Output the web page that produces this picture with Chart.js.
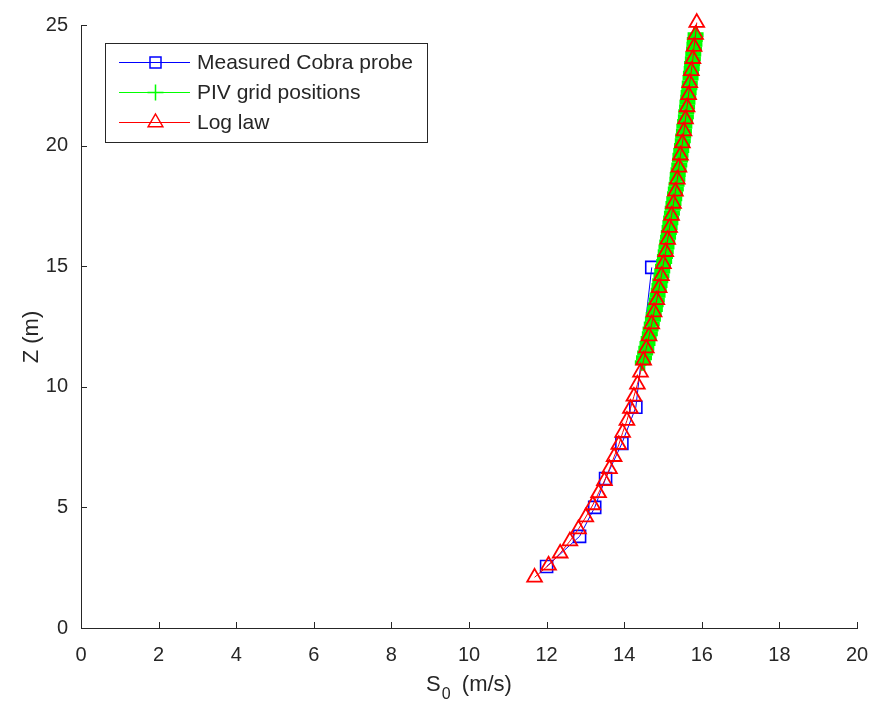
<!DOCTYPE html>
<html lang="en">
<head>
  <meta charset="UTF-8">
  <title>Wind speed profile</title>
  <script src="https://cdn.jsdelivr.net/npm/chart.js"></script>
  <style>
    html, body { margin: 0; padding: 0; background: #fff; }
    canvas { display: block; }
  </style>
</head>
<body>
  <canvas id="profile" width="870" height="708"></canvas>

  <script>
    // Cobra probe measurements (height, speed)
    const cobraZ = [2.55, 3.8, 5.0, 6.2, 7.65, 9.15, 14.95];
    const cobraS = [12.0, 12.85, 13.24, 13.52, 13.94, 14.3, 14.71];

    // PIV grid positions
    const pivZ = [11.0, 11.2, 11.4, 11.6, 11.8, 12.0, 12.2, 12.4, 12.6, 12.8,
                  13.0, 13.2, 13.4, 13.6, 13.8, 14.0, 14.2, 14.4, 14.6, 14.8,
                  15.0, 15.2, 15.4, 15.6, 15.8, 16.0, 16.2, 16.4, 16.6, 16.8,
                  17.0, 17.2, 17.4, 17.6, 17.8, 18.0, 18.2, 18.4, 18.6, 18.8,
                  19.0, 19.2, 19.4, 19.6, 19.8, 20.0, 20.2, 20.4, 20.6, 20.8,
                  21.0, 21.2, 21.4, 21.6, 21.8, 22.0, 22.2, 22.4, 22.6, 22.8,
                  23.0, 23.2, 23.4, 23.6, 23.8, 24.0, 24.2, 24.4, 24.6];
    const pivS = [14.48, 14.51, 14.54, 14.57, 14.60, 14.63, 14.66, 14.68, 14.71, 14.74,
                  14.76, 14.79, 14.81, 14.84, 14.86, 14.89, 14.91, 14.93, 14.96, 14.98,
                  15.00, 15.03, 15.05, 15.07, 15.09, 15.11, 15.13, 15.15, 15.17, 15.19,
                  15.21, 15.23, 15.25, 15.27, 15.29, 15.31, 15.33, 15.35, 15.37, 15.38,
                  15.40, 15.42, 15.44, 15.45, 15.47, 15.49, 15.51, 15.52, 15.54, 15.55,
                  15.57, 15.59, 15.60, 15.62, 15.63, 15.65, 15.66, 15.68, 15.69, 15.71,
                  15.72, 15.74, 15.75, 15.77, 15.78, 15.80, 15.81, 15.82, 15.84];

    // Log law profile
    const logZ = [2.1, 2.6, 3.1, 3.6, 4.1, 4.6, 5.1, 5.6, 6.1, 6.6,
                  7.1, 7.6, 8.1, 8.6, 9.1, 9.6, 10.1, 10.6, 11.1, 11.6,
                  12.1, 12.6, 13.1, 13.6, 14.1, 14.6, 15.1, 15.6, 16.1, 16.6,
                  17.1, 17.6, 18.1, 18.6, 19.1, 19.6, 20.1, 20.6, 21.1, 21.6,
                  22.1, 22.6, 23.1, 23.6, 24.1, 24.6, 25.1];
    const logS = [11.69, 12.05, 12.35, 12.60, 12.82, 13.01, 13.19, 13.34, 13.49, 13.62,
                  13.74, 13.86, 13.96, 14.07, 14.16, 14.25, 14.34, 14.42, 14.50, 14.57,
                  14.64, 14.71, 14.77, 14.84, 14.90, 14.96, 15.01, 15.07, 15.12, 15.17,
                  15.22, 15.27, 15.32, 15.37, 15.41, 15.45, 15.50, 15.54, 15.58, 15.62,
                  15.66, 15.69, 15.73, 15.77, 15.80, 15.84, 15.87];

    const xTicks = [0, 2, 4, 6, 8, 10, 12, 14, 16, 18, 20];
    const yTicks = [0, 5, 10, 15, 20, 25];

    const legendNames = ['Measured Cobra probe', 'PIV grid positions', 'Log law'];

    const axisColor = '#262626';
    const fontFamily = '"Liberation Sans", Arial, Helvetica, sans-serif';

    function toPoints(xs, ys) {
      return xs.map((x, i) => ({ x: x, y: ys[i] }));
    }

    // marker shapes used in the legend
    function drawMarker(ctx, kind, x, y) {
      ctx.beginPath();
      if (kind === 'rect') {
        ctx.rect(x - 5.5, y - 5.5, 11, 11);
      } else if (kind === 'cross') {
        ctx.moveTo(x, y - 8); ctx.lineTo(x, y + 8);
        ctx.moveTo(x - 8, y); ctx.lineTo(x + 8, y);
      } else {
        const r = 8.5;
        ctx.moveTo(x, y - r);
        ctx.lineTo(x + 0.866 * r, y + 0.5 * r);
        ctx.lineTo(x - 0.866 * r, y + 0.5 * r);
        ctx.closePath();
      }
      ctx.stroke();
    }

    const axesDecor = {
      id: 'axesDecor',
      afterDraw(chart) {
        const ctx = chart.ctx;
        const xs = chart.scales.x, ys = chart.scales.y;
        const area = chart.chartArea;
        ctx.save();

        // inward tick marks
        ctx.strokeStyle = axisColor;
        ctx.lineWidth = 1;
        ctx.beginPath();
        xTicks.forEach(v => {
          const px = Math.round(xs.getPixelForValue(v)) + 0.5;
          ctx.moveTo(px, area.bottom);
          ctx.lineTo(px, area.bottom - 6);
        });
        yTicks.forEach(v => {
          const py = Math.round(ys.getPixelForValue(v)) + 0.5;
          ctx.moveTo(area.left, py);
          ctx.lineTo(area.left + 6, py);
        });
        ctx.stroke();

        // axis titles
        ctx.fillStyle = axisColor;
        ctx.textBaseline = 'alphabetic';
        const mainFont = '22px ' + fontFamily;
        const subFont = '16px ' + fontFamily;
        ctx.font = mainFont;
        const wS = ctx.measureText('S').width;
        const wRest = ctx.measureText('  (m/s)').width;
        ctx.font = subFont;
        const wSub = ctx.measureText('0').width;
        const cx = (area.left + area.right) / 2;
        const tx = cx - (wS + wSub + wRest) / 2;
        const base = 691;
        ctx.font = mainFont;
        ctx.textAlign = 'left';
        ctx.fillText('S', tx, base);
        ctx.font = subFont;
        ctx.fillText('0', tx + wS + 1, base + 8);
        ctx.font = mainFont;
        ctx.fillText('  (m/s)', tx + wS + wSub, base);

        ctx.save();
        ctx.translate(38, 337);
        ctx.rotate(-Math.PI / 2);
        ctx.textAlign = 'center';
        ctx.fillText('Z (m)', 0, 0);
        ctx.restore();

        // legend box
        const bx = 105.5, by = 43.5, bw = 322, bh = 99;
        ctx.fillStyle = '#fff';
        ctx.fillRect(bx, by, bw, bh);
        ctx.strokeStyle = axisColor;
        ctx.lineWidth = 1;
        ctx.strokeRect(bx, by, bw, bh);

        const rowsY = [62, 92, 122];
        const shapes = ['rect', 'cross', 'triangle'];
        chart.data.datasets.forEach((ds, i) => {
          const ry = rowsY[i] + 0.5;
          ctx.strokeStyle = ds.borderColor;
          ctx.lineWidth = 1;
          ctx.beginPath();
          ctx.moveTo(119, ry);
          ctx.lineTo(190, ry);
          ctx.stroke();
          ctx.lineWidth = 1.5;
          drawMarker(ctx, shapes[i], 155.5, ry);
          ctx.fillStyle = axisColor;
          ctx.font = '21px ' + fontFamily;
          ctx.textAlign = 'left';
          ctx.textBaseline = 'middle';
          ctx.fillText(legendNames[i], 197, rowsY[i] + 1);
        });

        ctx.restore();
      }
    };

    new Chart(document.getElementById('profile'), {
      type: 'scatter',
      data: {
        datasets: [
          {
            label: legendNames[0],
            data: toPoints(cobraS, cobraZ),
            showLine: true,
            borderColor: '#0000ff',
            backgroundColor: 'rgba(0,0,0,0)',
            borderWidth: 1,
            pointStyle: 'rect',
            pointRadius: 8.5,
            pointBorderWidth: 1.6,
            order: 3
          },
          {
            label: legendNames[1],
            data: toPoints(pivS, pivZ),
            showLine: true,
            borderColor: '#00ff00',
            backgroundColor: 'rgba(0,0,0,0)',
            borderWidth: 1,
            pointStyle: 'cross',
            pointRadius: 8,
            pointBorderWidth: 5,
            order: 2
          },
          {
            label: legendNames[2],
            data: toPoints(logS, logZ),
            showLine: true,
            borderColor: '#ff0000',
            backgroundColor: 'rgba(0,0,0,0)',
            borderWidth: 1,
            pointStyle: 'triangle',
            pointRadius: 8.5,
            pointBorderWidth: 1.8,
            order: 1
          }
        ]
      },
      options: {
        responsive: false,
        animation: false,
        clip: false,
        layout: { padding: { left: 0, right: 0, top: 19, bottom: 0 } },
        plugins: {
          legend: { display: false },
          tooltip: { enabled: false }
        },
        scales: {
          x: {
            type: 'linear',
            min: 0,
            max: 20,
            afterBuildTicks: s => { s.ticks = xTicks.map(v => ({ value: v })); },
            afterFit: s => {
              s.height = 80;
              s.paddingLeft = 0;
              s.paddingRight = 13;
            },
            grid: { display: false, drawTicks: false },
            border: { display: true, color: axisColor, width: 1 },
            ticks: {
              color: axisColor,
              padding: 15,
              maxRotation: 0,
              font: { family: fontFamily, size: 20 }
            }
          },
          y: {
            type: 'linear',
            min: 0,
            max: 25,
            afterBuildTicks: s => { s.ticks = yTicks.map(v => ({ value: v })); },
            afterFit: s => { s.width = 81; },
            grid: { display: false, drawTicks: false },
            border: { display: true, color: axisColor, width: 1 },
            ticks: {
              color: axisColor,
              padding: 13,
              font: { family: fontFamily, size: 20 }
            }
          }
        }
      },
      plugins: [axesDecor]
    });
  </script>
</body>
</html>
